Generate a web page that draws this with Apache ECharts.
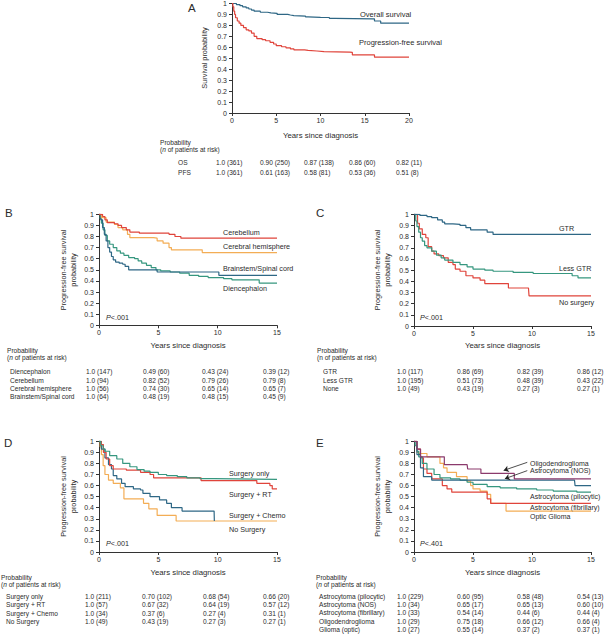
<!DOCTYPE html>
<html>
<head>
<meta charset="utf-8">
<script src="https://cdn.jsdelivr.net/npm/echarts@6/dist/echarts.min.js"></script>
<style>html,body{margin:0;padding:0;background:#fff}#c{width:608px;height:638px}</style>
</head>
<body>
<div id="c"></div>
<script>
// ---------------- DATA ----------------
const yTickLabels = ['0','0.1','0.2','0.3','0.4','0.5','0.6','0.7','0.8','0.9','1'];
const xTicksA = [0,5,10,15,20];
const xTicksB = [0,5,10,15];

// Panel A
const osData = [[0,1],[0.5,0.99],[0.9,0.98],[1.2,0.97],[1.6,0.96],[1.9,0.95],[2.2,0.94],[2.5,0.93],[3.2,0.92],[4,0.915],[4.4,0.91],[5.1,0.90],[6.3,0.895],[6.6,0.89],[7,0.885],[8.3,0.878],[8.6,0.873],[10,0.872],[11,0.865],[11.6,0.86],[15.9,0.86],[16.1,0.84],[16.8,0.82],[20,0.82]];
const pfsData = [[0,1],[0.1,0.97],[0.2,0.93],[0.3,0.9],[0.4,0.87],[0.6,0.84],[0.8,0.82],[1,0.80],[1.3,0.78],[1.6,0.76],[1.9,0.75],[2.2,0.73],[2.5,0.70],[2.8,0.68],[3.4,0.67],[3.8,0.66],[4.3,0.645],[4.7,0.63],[5,0.615],[5.6,0.605],[6.1,0.595],[6.6,0.585],[7,0.576],[8.2,0.572],[8.6,0.566],[9.6,0.56],[10.4,0.556],[13.3,0.553],[13.6,0.53],[16,0.53],[16.1,0.51],[20,0.51]];

// Panel B
const cerebellum = [[0,1],[0.3,0.98],[0.5,0.95],[0.7,0.925],[1.3,0.915],[1.6,0.90],[1.9,0.88],[2.3,0.86],[2.6,0.84],[3.4,0.83],[5.9,0.82],[6.4,0.80],[6.9,0.785],[15,0.785]];
const cerebral = [[0,1],[0.2,0.97],[0.6,0.93],[1.3,0.91],[1.6,0.88],[2.0,0.86],[2.4,0.82],[2.6,0.79],[4.6,0.785],[4.9,0.76],[5.4,0.74],[5.9,0.70],[6.1,0.68],[8.5,0.68],[8.7,0.655],[15,0.655]];
const brainstem = [[0,1],[0.15,0.95],[0.3,0.88],[0.45,0.82],[0.6,0.76],[0.75,0.70],[0.9,0.66],[1.05,0.62],[1.2,0.59],[1.4,0.57],[1.7,0.56],[2.0,0.55],[2.2,0.53],[2.5,0.50],[4.6,0.50],[4.9,0.48],[9.9,0.48],[10.1,0.45],[15,0.45]];
const diencephalon = [[0,1],[0.1,0.96],[0.2,0.92],[0.35,0.86],[0.5,0.81],[0.7,0.76],[0.9,0.73],[1.2,0.70],[1.5,0.67],[1.8,0.65],[2.1,0.63],[2.5,0.61],[3.0,0.60],[3.3,0.58],[3.6,0.56],[4.0,0.54],[4.4,0.52],[4.8,0.50],[5.2,0.49],[6.0,0.48],[6.8,0.47],[7.6,0.45],[8.4,0.44],[9.2,0.43],[10.5,0.42],[11.2,0.41],[13.3,0.41],[13.5,0.38],[15,0.38]];

// Panel C
const gtr = [[0,1],[0.5,0.99],[1.1,0.98],[1.5,0.97],[2.0,0.95],[2.4,0.93],[2.6,0.915],[3.3,0.91],[3.9,0.90],[4.4,0.88],[4.8,0.86],[5.8,0.86],[6.2,0.84],[6.7,0.82],[15,0.82]];
const lessGtr = [[0,1],[0.15,0.94],[0.25,0.89],[0.4,0.84],[0.55,0.79],[0.7,0.76],[0.9,0.72],[1.1,0.70],[1.5,0.67],[1.9,0.635],[2.3,0.61],[2.6,0.59],[3.3,0.57],[3.9,0.55],[4.5,0.53],[5.0,0.51],[6.0,0.50],[6.7,0.49],[8.4,0.48],[10.1,0.47],[13.4,0.45],[13.9,0.43],[15,0.43]];
const noSurgeryC = [[0,1],[0.3,0.92],[0.45,0.87],[0.7,0.82],[1.0,0.79],[1.2,0.71],[1.5,0.67],[1.7,0.645],[2.1,0.63],[2.5,0.61],[2.9,0.57],[3.3,0.55],[3.5,0.51],[3.9,0.49],[4.4,0.45],[5.0,0.43],[5.6,0.41],[6.0,0.38],[7.9,0.38],[8.0,0.34],[9.7,0.34],[9.75,0.27],[15,0.27]];

// Panel D
const surgeryOnly = [[0,1],[0.15,0.96],[0.35,0.93],[0.5,0.91],[0.9,0.87],[1.5,0.84],[2.0,0.80],[2.6,0.77],[3.2,0.745],[3.8,0.73],[4.3,0.72],[5.0,0.70],[5.7,0.69],[6.6,0.68],[7.4,0.67],[8.5,0.663],[9.7,0.66],[11.5,0.656],[15,0.655]];
const surgeryRT = [[0,1],[0.2,0.97],[0.37,0.90],[0.6,0.84],[0.9,0.78],[1.2,0.75],[2.3,0.74],[3.5,0.72],[4.3,0.70],[4.6,0.67],[8.5,0.67],[8.6,0.645],[13.0,0.645],[13.3,0.62],[14.4,0.60],[14.6,0.57],[15,0.57]];
const surgeryChemo = [[0,1],[0.2,0.93],[0.5,0.85],[0.8,0.79],[1.05,0.75],[1.2,0.69],[1.5,0.66],[1.9,0.62],[2.2,0.59],[2.9,0.57],[3.5,0.56],[3.7,0.53],[4.3,0.50],[5.1,0.47],[5.7,0.44],[6.1,0.40],[7.0,0.37],[9.7,0.37],[9.72,0.28]];
const noSurgeryD = [[0,1],[0.1,0.95],[0.2,0.88],[0.35,0.78],[0.5,0.70],[0.8,0.65],[1.2,0.62],[1.8,0.58],[2.1,0.48],[3.6,0.48],[3.75,0.44],[4.2,0.39],[4.9,0.33],[6.4,0.33],[6.5,0.28],[15,0.28]];

// Panel E
const oligo = [[0,1],[0.25,0.93],[0.55,0.86],[2.5,0.86],[2.57,0.79],[4.5,0.79],[4.55,0.75],[5.6,0.75],[5.67,0.71],[8.4,0.71],[8.5,0.66],[15,0.66]];
const astroNOS = [[0,1],[0.25,0.88],[0.55,0.76],[0.8,0.68],[1.4,0.68],[1.5,0.65],[13.6,0.65],[13.65,0.60],[15,0.60]];
const astroPilo = [[0,1],[0.1,0.96],[0.25,0.91],[0.4,0.86],[0.7,0.80],[1.1,0.75],[1.7,0.70],[2.2,0.67],[3.1,0.66],[3.9,0.65],[4.5,0.63],[5.0,0.61],[6.2,0.59],[7.3,0.58],[8.7,0.57],[10.4,0.56],[11.8,0.55],[13.8,0.54],[15,0.54]];
const astroFib = [[0,1],[0.25,0.93],[0.55,0.85],[0.8,0.75],[1.1,0.71],[1.5,0.66],[2.2,0.66],[2.4,0.60],[2.8,0.57],[3.2,0.54],[5.9,0.54],[6.2,0.48],[6.5,0.44],[15,0.44]];
const opticGlioma = [[0,1],[0.25,0.90],[0.4,0.89],[1.1,0.86],[1.95,0.86],[2.2,0.80],[2.5,0.76],[2.8,0.72],[3.6,0.68],[4.5,0.64],[4.8,0.60],[5.0,0.57],[5.6,0.55],[6.2,0.52],[6.5,0.44],[7.7,0.44],[7.8,0.37],[15,0.37]];

// Tables
const tableA = [['OS','1.0 (361)','0.90 (250)','0.87 (138)','0.86 (60)','0.82 (11)'],['PFS','1.0 (361)','0.61 (163)','0.58 (81)','0.53 (36)','0.51 (8)']];
const tableB = [['Diencephalon','1.0 (147)','0.49 (60)','0.43 (24)','0.39 (12)'],['Cerebellum','1.0 (94)','0.82 (52)','0.79 (26)','0.79 (8)'],['Cerebral hemisphere','1.0 (56)','0.74 (30)','0.65 (14)','0.65 (7)'],['Brainstem/Spinal cord','1.0 (64)','0.48 (19)','0.48 (15)','0.45 (9)']];
const tableC = [['GTR','1.0 (117)','0.86 (69)','0.82 (39)','0.86 (12)'],['Less GTR','1.0 (195)','0.51 (73)','0.48 (39)','0.43 (22)'],['None','1.0 (49)','0.43 (19)','0.27 (3)','0.27 (1)']];
const tableD = [['Surgery only','1.0 (211)','0.70 (102)','0.68 (54)','0.66 (20)'],['Surgery + RT','1.0 (57)','0.67 (32)','0.64 (19)','0.57 (12)'],['Surgery + Chemo','1.0 (34)','0.37 (6)','0.27 (4)','0.31 (1)'],['No Surgery','1.0 (49)','0.43 (19)','0.27 (3)','0.27 (1)']];
const tableE = [['Astrocytoma (pilocytic)','1.0 (229)','0.60 (95)','0.58 (48)','0.54 (13)'],['Astrocytoma (NOS)','1.0 (34)','0.65 (17)','0.65 (13)','0.60 (10)'],['Astrocytoma (fibrillary)','1.0 (33)','0.54 (14)','0.44 (6)','0.44 (4)'],['Oligodendroglioma','1.0 (29)','0.75 (18)','0.66 (12)','0.66 (4)'],['Glioma (optic)','1.0 (27)','0.55 (14)','0.37 (2)','0.37 (1)']];

// ---------------- STYLE ----------------
const FONT = '"Liberation Sans", Arial, Helvetica, sans-serif';
const TXT = '#2b2b2b';
const BLUE = '#2e6785', RED = '#e0443b', ORANGE = '#f3ad55', TEAL = '#36977f', PURPLE = '#8b3a6c';

const grids = [
  {left:232, top:3.5, width:177, height:109.5},
  {left:99, top:214.3, width:178, height:111},
  {left:414, top:214.3, width:177, height:111.7},
  {left:99, top:441.3, width:178, height:110.7},
  {left:414, top:441.3, width:177, height:110.7}
];

function xAxis(i, max) {
  return {gridIndex:i, type:'value', min:0, max:max, interval:5,
    axisLine:{show:true, onZero:false, lineStyle:{color:'#333', width:1}},
    axisTick:{show:true, length:3, lineStyle:{color:'#333'}},
    axisLabel:{fontSize:7, color:TXT, fontFamily:FONT, margin:4},
    splitLine:{show:false}};
}
function yAxis(i) {
  return {gridIndex:i, type:'value', min:0, max:1, interval:0.1,
    axisLine:{show:true, onZero:false, lineStyle:{color:'#333', width:1}},
    axisTick:{show:true, length:3, lineStyle:{color:'#333'}},
    axisLabel:{fontSize:7, color:TXT, fontFamily:FONT, margin:5,
      formatter:(v)=>yTickLabels[Math.round(v*10)]},
    splitLine:{show:false}};
}
function km(name, data, color, ax, extra) {
  return Object.assign({type:'line', name:name, data:data, step:'end', showSymbol:false, symbol:'none',
    xAxisIndex:ax, yAxisIndex:ax, lineStyle:{color:color, width:1.2}, itemStyle:{color:color},
    silent:true, animation:false}, extra||{});
}

// graphic helpers
const G = [];
function txt(x, y, text, opt) {
  opt = opt || {};
  G.push({type:'text', x:x, y:y, rotation:opt.rot||0, silent:true,
    style:{text:text, fontSize:opt.size||7, fontFamily:FONT, fill:opt.color||TXT,
      fontWeight:opt.weight||'normal',
      align:opt.align||'left', textAlign:opt.align||'left',
      verticalAlign:'middle', textVerticalAlign:'middle',
      rich:{i:{fontStyle:'italic', fontSize:opt.size||7, fontFamily:FONT, fill:opt.color||TXT}}}});
}
function table(headerX, headerY, italicN, rows, xs, rowYs) {
  txt(headerX, headerY, 'Probability', {size:6.6});
  txt(headerX, headerY+6.8, italicN ? '({i|n} of patients at risk)' : '(n of patients at risk)', {size:6.6});
  rows.forEach((r, ri) => r.forEach((c, ci) => txt(xs[ci], rowYs[ri], c, {size:6.6})));
}

// Panel letters
txt(188, 8, 'A', {size:11.5}); txt(5, 213, 'B', {size:11.5}); txt(316, 213, 'C', {size:11.5});
txt(4, 443, 'D', {size:11.5}); txt(316, 443, 'E', {size:11.5});

// Axis names
txt(204, 58, 'Survival probability', {rot:Math.PI/2, align:'center', size:7.3});
[[63,73,270],[377,387,270],[63,73,496.5],[377,387,496.5]].forEach(p => {
  txt(p[0], p[2], 'Progression-free survival', {rot:Math.PI/2, align:'center', size:7.3});
  txt(p[1], p[2], 'probability', {rot:Math.PI/2, align:'center', size:7.3});
});
[[320.5,135.5],[188,345],[502.5,345],[188,572],[502.5,572]].forEach(p => txt(p[0], p[1], 'Years since diagnosis', {align:'center', size:7.8}));

// Curve labels
txt(360, 14, 'Overall survival', {size:7.5}); txt(359, 42.7, 'Progression-free survival', {size:7.5});
txt(223, 232.3, 'Cerebellum', {size:7.2}); txt(223, 246.7, 'Cerebral hemisphere', {size:7.2});
txt(223, 268, 'Brainstem/Spinal cord', {size:7.2}); txt(223, 288.7, 'Diencephalon', {size:7.2});
txt(559, 228.7, 'GTR', {size:7.2}); txt(559, 268, 'Less GTR', {size:7.2}); txt(559, 302.7, 'No surgery', {size:7.2});
txt(229, 473.3, 'Surgery only', {size:7.2}); txt(229, 494.3, 'Surgery + RT', {size:7.2});
txt(229, 515, 'Surgery + Chemo', {size:7.2}); txt(229, 529.3, 'No Surgery', {size:7.2});
txt(530, 463.3, 'Oligodendroglioma', {size:7}); txt(530, 470.8, 'Astrocytoma (NOS)', {size:7});
txt(530, 496.7, 'Astrocytoma (pilocytic)', {size:7}); txt(530, 507, 'Astrocytoma (fibrillary)', {size:7});
txt(530, 516, 'Optic Glioma', {size:7});
// P values
txt(106, 317, '{i|P}<.001', {size:7.2}); txt(420, 317, '{i|P}<.001', {size:7.2});
txt(106, 543, '{i|P}<.001', {size:7.2}); txt(420, 543, '{i|P}<.401', {size:7.2});

// Tables
table(160, 142.3, true, tableA, [178,216,260,304,349,396], [162.3,172.3]);
table(7, 350.7, true, tableB, [10,86,143,202,263], [371.7,380,388.3,396.7]);
table(317, 350.7, false, tableC, [323,397,457,517,577], [371.7,380,388.3]);
table(1, 577.7, true, tableD, [6,85,142,203,263], [596,604.6,613.2,621.7]);
table(316, 577.7, true, tableE, [319,397,457,517,577], [596,604.3,612.7,621,629.3]);

const arrowMark = {silent:true, animation:false, symbol:['none','arrow'], symbolSize:5,
  lineStyle:{color:'#222', width:0.8, type:'solid'}, label:{show:false},
  data:[[{coord:[9.6,0.81]},{coord:[7.6,0.737]}],[{coord:[9.6,0.735]},{coord:[7.7,0.662]}]]};

const series = [
  km('Overall survival', osData, BLUE, 0),
  km('Progression-free survival', pfsData, RED, 0),
  km('Diencephalon', diencephalon, TEAL, 1),
  km('Brainstem/Spinal cord', brainstem, BLUE, 1),
  km('Cerebral hemisphere', cerebral, ORANGE, 1),
  km('Cerebellum', cerebellum, RED, 1),
  km('No surgery', noSurgeryC, RED, 2),
  km('Less GTR', lessGtr, TEAL, 2),
  km('GTR', gtr, BLUE, 2),
  km('No Surgery', noSurgeryD, ORANGE, 3),
  km('Surgery + Chemo', surgeryChemo, BLUE, 3),
  km('Surgery + RT', surgeryRT, RED, 3),
  km('Surgery only', surgeryOnly, TEAL, 3),
  km('Optic Glioma', opticGlioma, ORANGE, 4),
  km('Astrocytoma (fibrillary)', astroFib, RED, 4),
  km('Astrocytoma (pilocytic)', astroPilo, TEAL, 4),
  km('Astrocytoma (NOS)', astroNOS, BLUE, 4),
  km('Oligodendroglioma', oligo, PURPLE, 4, {markLine:arrowMark})
];

const chart = echarts.init(document.getElementById('c'), null, {renderer:'svg'});
chart.setOption({
  animation:false,
  backgroundColor:'#fff',
  grid:grids,
  xAxis:[xAxis(0,20), xAxis(1,15), xAxis(2,15), xAxis(3,15), xAxis(4,15)],
  yAxis:[yAxis(0), yAxis(1), yAxis(2), yAxis(3), yAxis(4)],
  series:series,
  graphic:{elements:G}
});
</script>
</body>
</html>
